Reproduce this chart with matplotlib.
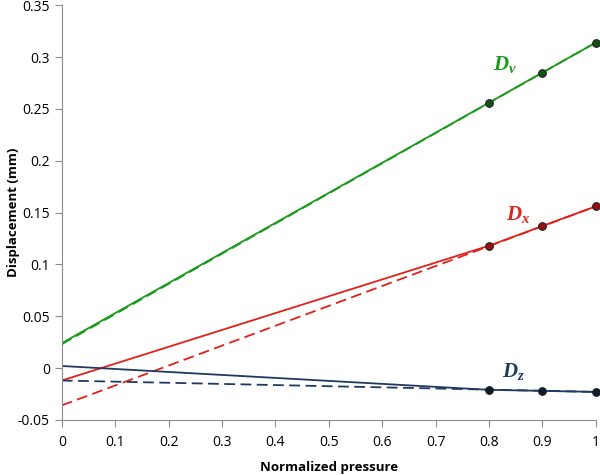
import numpy as np
import matplotlib
matplotlib.use("Agg")
import matplotlib.pyplot as plt

plt.rcParams['font.family'] = ['Open Sans', 'DejaVu Sans']
plt.rcParams['mathtext.fontset'] = 'custom'
plt.rcParams['mathtext.it'] = 'Liberation Serif:italic:bold'
plt.rcParams['mathtext.rm'] = 'Liberation Serif:bold'

# measured points (normalized pressure 0.8, 0.9, 1)
p_meas = [0.8, 0.9, 1.0]
dv_meas = [0.256, 0.285, 0.314]
dx_meas = [0.118, 0.137, 0.156]
dz_meas = [-0.021, -0.022, -0.023]

# solid curves: start value at 0 then through measured points
p_solid = [0.0, 0.8, 0.9, 1.0]
dv_solid = [0.024, 0.256, 0.285, 0.314]
dx_solid = [-0.012, 0.118, 0.137, 0.156]
dz_solid = [0.002, -0.021, -0.022, -0.023]

# dashed linear trends
p_dash = [0.0, 1.0]
dv_dash = [0.023, 0.314]
dx_dash = [-0.036, 0.156]
dz_dash = [-0.012, -0.023]

green = '#1a9a1a'
red = '#e3201b'
navy = '#1f3a60'

fig = plt.figure(figsize=(6, 4.75), dpi=100)
ax = fig.add_axes([0.103, 0.116, 0.89, 0.873])

series = [
    (dv_solid, dv_dash, dv_meas, green, '#145214'),
    (dx_solid, dx_dash, dx_meas, red, '#9a0f0f'),
    (dz_solid, dz_dash, dz_meas, navy, '#0d1a2e'),
]
for solid, dash, meas, c, fc in series:
    ax.plot(p_dash, dash, color=c, lw=1.3, ls=(0, (6, 3)))
    ax.plot(p_solid, solid, color=c, lw=1.3)
    ax.plot(p_meas, meas, 'o', ms=5.5, color=fc, mec='#202020', mew=0.8,
            zorder=5, clip_on=False)

ax.text(0.83, 0.293, r'$D_v$', color=green, fontsize=15, ha='center', va='center')
ax.text(0.855, 0.148, r'$D_x$', color=red, fontsize=15, ha='center', va='center')
ax.text(0.845, -0.003, r'$D_z$', color=navy, fontsize=15, ha='center', va='center')

ax.set_xlim(0, 1)
ax.set_ylim(-0.05, 0.35)
ax.set_xticks(np.arange(0, 1.01, 0.1))
ax.set_xticklabels(['0', '0.1', '0.2', '0.3', '0.4', '0.5', '0.6', '0.7', '0.8', '0.9', '1'])
ax.set_yticks(np.arange(-0.05, 0.351, 0.05))
ax.set_yticklabels(['-0.05', '0', '0.05', '0.1', '0.15', '0.2', '0.25', '0.3', '0.35'])
for s in ['top', 'right']:
    ax.spines[s].set_visible(False)
for s in ['left', 'bottom']:
    ax.spines[s].set_color('#8c8c8c')
ax.tick_params(colors='#8c8c8c', labelcolor='black', labelsize=10, length=5, width=0.8)
ax.tick_params(axis='x', pad=6)
ax.set_xlabel('Normalized pressure', fontsize=9.5, fontweight='bold')
ax.set_ylabel('Displacement (mm)', fontsize=9.5, fontweight='bold')
ax.xaxis.set_label_coords(0.5, -0.1)
ax.yaxis.set_label_coords(-0.078, 0.5)

fig.savefig('out.png', dpi=100)
